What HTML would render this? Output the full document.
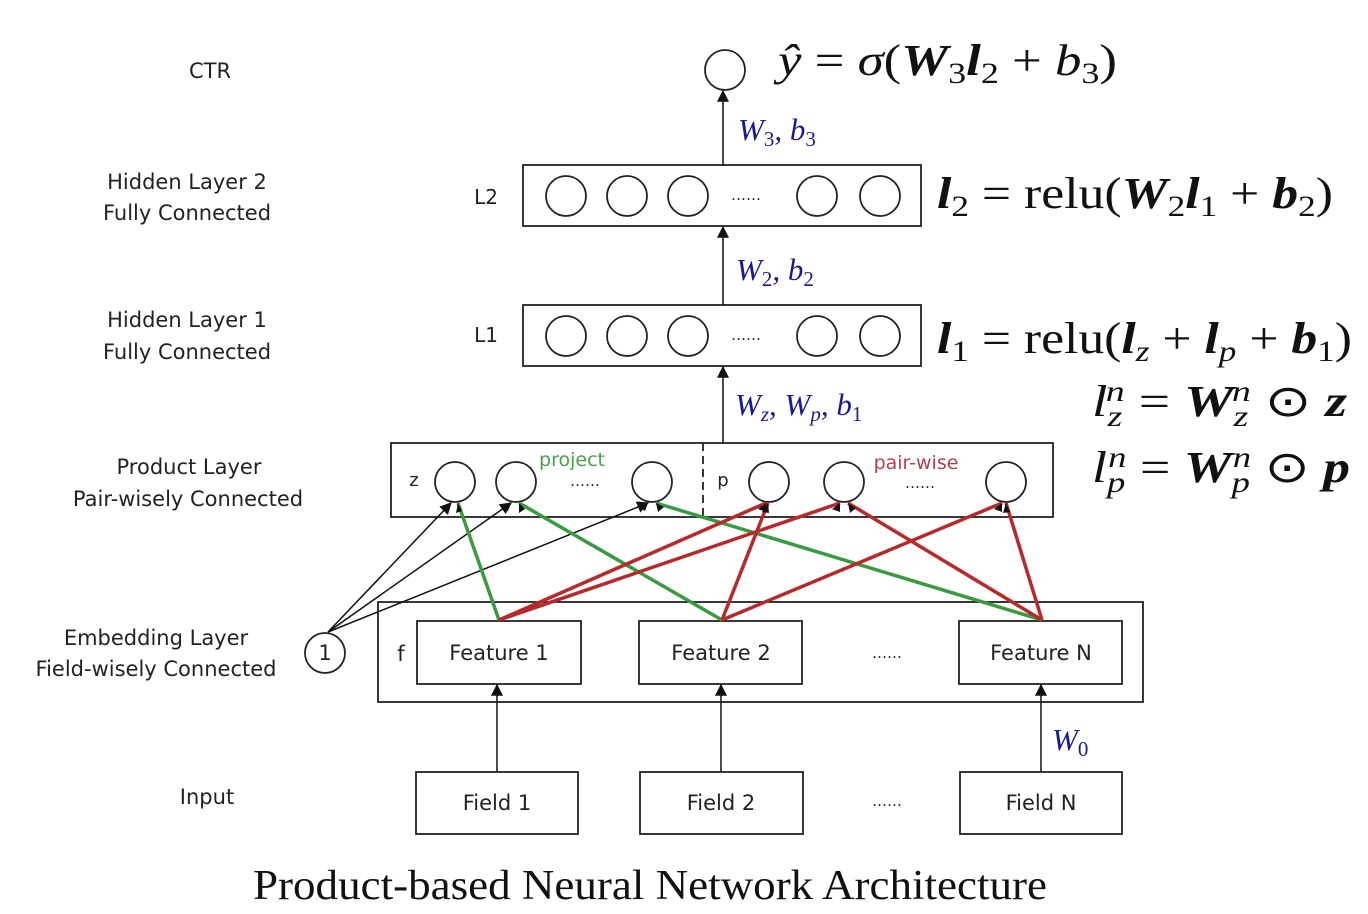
<!DOCTYPE html>
<html><head><meta charset="utf-8"><style>
html,body{margin:0;padding:0;background:#fff;}
svg{display:block;}
.l{font-family:"DejaVu Sans","Liberation Sans",sans-serif;font-size:21px;fill:#222;}
.m{font-family:"Liberation Serif",serif;font-style:italic;fill:#1a1a8c;font-size:31px;}
.e{font-family:"Liberation Serif",serif;fill:#111;font-size:44px;}
</style></head><body>
<svg width="1368" height="914" viewBox="0 0 1368 914" xmlns="http://www.w3.org/2000/svg">
<defs>
<marker id="a" viewBox="0 0 10 10" refX="9" refY="5" markerWidth="12" markerHeight="12" markerUnits="userSpaceOnUse" orient="auto"><path d="M0,0L10,5L0,10z" fill="#111"/></marker>
</defs>
<g class="l" text-anchor="middle">
<text x="210" y="78">CTR</text>
<text x="187" y="189">Hidden Layer 2</text>
<text x="187" y="220">Fully Connected</text>
<text x="187" y="327">Hidden Layer 1</text>
<text x="187" y="359">Fully Connected</text>
<text x="189" y="474">Product Layer</text>
<text x="188" y="506">Pair-wisely Connected</text>
<text x="156" y="645">Embedding Layer</text>
<text x="156" y="676">Field-wisely Connected</text>
<text x="207" y="804">Input</text>
<text x="486" y="204" font-size="20">L2</text>
<text x="486" y="342" font-size="20">L1</text>
</g>
<g fill="none" stroke="#222" stroke-width="1.8">
<circle cx="725" cy="70" r="20"/>
<rect x="523" y="165" width="398" height="61"/>
<rect x="523" y="305" width="398" height="61"/>
<circle cx="566" cy="196" r="20"/><circle cx="627" cy="196" r="20"/><circle cx="688" cy="196" r="20"/><circle cx="817" cy="196" r="20"/><circle cx="880" cy="196" r="20"/>
<circle cx="566" cy="336" r="20"/><circle cx="627" cy="336" r="20"/><circle cx="688" cy="336" r="20"/><circle cx="817" cy="336" r="20"/><circle cx="880" cy="336" r="20"/>
<rect x="391" y="443" width="662" height="74"/>
<line x1="703" y1="443" x2="703" y2="517" stroke-dasharray="8,5"/>
<circle cx="455" cy="482" r="20"/><circle cx="516" cy="482" r="20"/><circle cx="652" cy="482" r="20"/>
<circle cx="769" cy="482" r="20"/><circle cx="844" cy="482" r="20"/><circle cx="1006" cy="482" r="20"/>
<rect x="378" y="602" width="765" height="100"/>
<rect x="417" y="621" width="164" height="63"/>
<rect x="639" y="621" width="163" height="63"/>
<rect x="959" y="621" width="163" height="63"/>
<rect x="416" y="772" width="162" height="62"/>
<rect x="640" y="772" width="163" height="62"/>
<rect x="960" y="772" width="162" height="62"/>
<circle cx="325" cy="653" r="20"/>
</g>
<g stroke="#111" stroke-width="1.5" marker-end="url(#a)">
<line x1="723" y1="165" x2="723" y2="91"/>
<line x1="723" y1="305" x2="723" y2="227"/>
<line x1="723" y1="443" x2="723" y2="367"/>
<line x1="497" y1="772" x2="497" y2="685"/>
<line x1="721" y1="772" x2="721" y2="685"/>
<line x1="1041" y1="772" x2="1041" y2="685"/>
<line x1="328" y1="632" x2="451" y2="503"/>
<line x1="328" y1="632" x2="511" y2="503"/>
<line x1="328" y1="632" x2="648" y2="503"/>
</g>
<g stroke="#3a9a44" stroke-width="3.5">
<line x1="499" y1="620" x2="458" y2="503"/>
<line x1="722" y1="620" x2="519" y2="503"/>
<line x1="1042" y1="620" x2="656" y2="503"/>
</g>
<g stroke="#b52a2a" stroke-width="3.5">
<line x1="499" y1="620" x2="766" y2="503"/>
<line x1="499" y1="620" x2="840" y2="503"/>
<line x1="722" y1="620" x2="768" y2="503"/>
<line x1="722" y1="620" x2="1002" y2="503"/>
<line x1="1042" y1="620" x2="848" y2="503"/>
<line x1="1042" y1="620" x2="1006" y2="503"/>
</g>
<g fill="#111">
<path d="M451,503l-9,4l6,4z"/><path d="M458,503l-2,10l6,-2z"/>
<path d="M511,503l-9,4l6,4z"/><path d="M519,503l0,10l6,-4z"/>
<path d="M648,503l-9,4l6,4z"/><path d="M656,503l2,9l6,-5z"/>
<path d="M766,503l-8,6l8,3z"/><path d="M768,503l-6,9l7,1z"/>
<path d="M840,503l-8,6l8,3z"/><path d="M848,503l2,10l6,-5z"/>
<path d="M1002,503l-8,6l8,3z"/><path d="M1006,503l-3,10l7,-1z"/>
</g>
<g class="l" text-anchor="middle">
<text x="414" y="486" font-size="18">z</text>
<text x="723" y="486" font-size="18">p</text>
<text x="572" y="466" fill="#4aa04a" font-size="19">project</text>
<text x="916" y="469" fill="#b04050" font-size="19">pair-wise</text>
<text x="585" y="486" font-size="15">……</text>
<text x="920" y="488" font-size="15">……</text>
<text x="746" y="200" font-size="15">……</text>
<text x="746" y="340" font-size="15">……</text>
<text x="887" y="658" font-size="15">……</text>
<text x="887" y="806" font-size="15">……</text>
<text x="401" y="661">f</text>
<text x="325" y="660">1</text>
<text x="499" y="660">Feature 1</text>
<text x="721" y="660">Feature 2</text>
<text x="1041" y="660">Feature N</text>
<text x="497" y="810">Field 1</text>
<text x="721" y="810">Field 2</text>
<text x="1041" y="810">Field N</text>
</g>
<text class="m" x="738" y="140">W<tspan font-size="21" dy="6" font-style="normal">3</tspan><tspan dy="-6">, b</tspan><tspan font-size="21" dy="6" font-style="normal">3</tspan></text>
<text class="m" x="736" y="280">W<tspan font-size="21" dy="6" font-style="normal">2</tspan><tspan dy="-6">, b</tspan><tspan font-size="21" dy="6" font-style="normal">2</tspan></text>
<text class="m" x="735" y="415">W<tspan font-size="21" dy="6">z</tspan><tspan dy="-6">, W</tspan><tspan font-size="21" dy="6">p</tspan><tspan dy="-6">, b</tspan><tspan font-size="21" dy="6" font-style="normal">1</tspan></text>
<text class="m" x="1052" y="750">W<tspan font-size="21" dy="6" font-style="normal">0</tspan></text>
<g class="e">
<text x="778" y="75" textLength="339" lengthAdjust="spacingAndGlyphs"><tspan font-style="italic">ŷ</tspan> = <tspan font-style="italic">σ</tspan>(<tspan font-weight="bold" font-style="italic">W</tspan><tspan font-size="30" dy="8">3</tspan><tspan dy="-8" font-weight="bold" font-style="italic">l</tspan><tspan font-size="30" dy="8">2</tspan><tspan dy="-8"> + </tspan><tspan font-style="italic">b</tspan><tspan font-size="30" dy="8">3</tspan><tspan dy="-8">)</tspan></text>
<text x="937" y="208" textLength="396" lengthAdjust="spacingAndGlyphs"><tspan font-weight="bold" font-style="italic">l</tspan><tspan font-size="30" dy="8">2</tspan><tspan dy="-8"> = relu(</tspan><tspan font-weight="bold" font-style="italic">W</tspan><tspan font-size="30" dy="8">2</tspan><tspan dy="-8" font-weight="bold" font-style="italic">l</tspan><tspan font-size="30" dy="8">1</tspan><tspan dy="-8"> + </tspan><tspan font-weight="bold" font-style="italic">b</tspan><tspan font-size="30" dy="8">2</tspan><tspan dy="-8">)</tspan></text>
<text x="937" y="353" textLength="415" lengthAdjust="spacingAndGlyphs"><tspan font-weight="bold" font-style="italic">l</tspan><tspan font-size="30" dy="8">1</tspan><tspan dy="-8"> = relu(</tspan><tspan font-weight="bold" font-style="italic">l</tspan><tspan font-size="30" dy="8" font-style="italic">z</tspan><tspan dy="-8"> + </tspan><tspan font-weight="bold" font-style="italic">l</tspan><tspan font-size="30" dy="8" font-style="italic">p</tspan><tspan dy="-8"> + </tspan><tspan font-weight="bold" font-style="italic">b</tspan><tspan font-size="30" dy="8">1</tspan><tspan dy="-8">)</tspan></text>
<text x="1092" y="416" textLength="255" lengthAdjust="spacingAndGlyphs"><tspan font-style="italic">l</tspan><tspan font-size="30" dy="10" font-style="italic">z</tspan><tspan font-size="30" dx="-13" dy="-25" font-style="italic">n</tspan><tspan dy="15"> = </tspan><tspan font-weight="bold" font-style="italic">W</tspan><tspan font-size="30" dy="10" font-style="italic">z</tspan><tspan font-size="30" dx="-13" dy="-25" font-style="italic">n</tspan><tspan dy="15"> ⊙ </tspan><tspan font-weight="bold" font-style="italic">z</tspan></text>
<text x="1092" y="482" textLength="258" lengthAdjust="spacingAndGlyphs"><tspan font-style="italic">l</tspan><tspan font-size="30" dy="10" font-style="italic">p</tspan><tspan font-size="30" dx="-14" dy="-25" font-style="italic">n</tspan><tspan dy="15"> = </tspan><tspan font-weight="bold" font-style="italic">W</tspan><tspan font-size="30" dy="10" font-style="italic">p</tspan><tspan font-size="30" dx="-14" dy="-25" font-style="italic">n</tspan><tspan dy="15"> ⊙ </tspan><tspan font-weight="bold" font-style="italic">p</tspan></text>
<text x="253" y="899" font-size="42" textLength="794" lengthAdjust="spacingAndGlyphs">Product-based Neural Network Architecture</text>
</g>
</svg>
</body></html>
